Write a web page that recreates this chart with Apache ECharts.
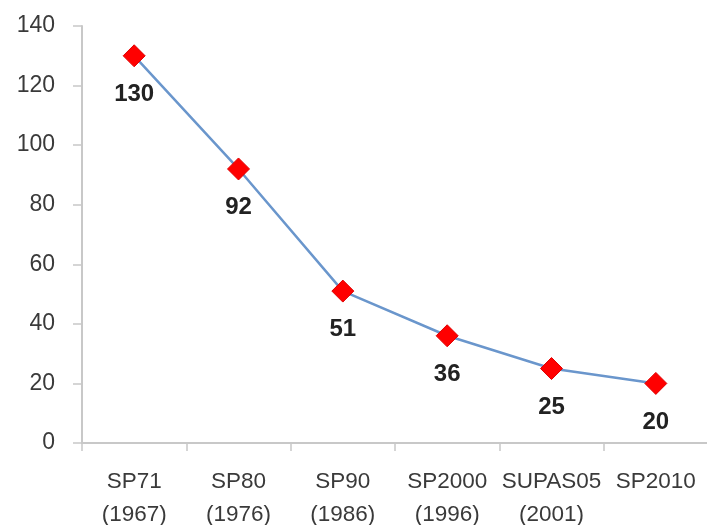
<!DOCTYPE html>
<html>
<head>
<meta charset="utf-8">
<script src="https://cdn.jsdelivr.net/npm/echarts@6/dist/echarts.min.js"></script>
<style>html,body{margin:0;padding:0;background:#fff;}#c{width:707px;height:525px;}</style>
</head>
<body>
<div id="c"></div>
<script>
const categories = ['SP71\n(1967)', 'SP80\n(1976)', 'SP90\n(1986)', 'SP2000\n(1996)', 'SUPAS05\n(2001)', 'SP2010'];
const values = [130, 92, 51, 36, 25, 20];
const yTicks = { min: 0, max: 140, interval: 20 };

const chart = echarts.init(document.getElementById('c'));
const font = 'Liberation Sans';
chart.setOption({
  animation: false,
  backgroundColor: '#fff',
  grid: { left: 82, right: -1, top: 26, bottom: 82, containLabel: false, outerBoundsMode: 'none' },
  xAxis: {
    type: 'category',
    data: categories,
    boundaryGap: true,
    axisLine: { lineStyle: { color: '#c8c8c8', width: 2 } },
    axisTick: { show: true, length: 8, lineStyle: { color: '#c8c8c8', width: 1.5 } },
    axisLabel: { color: '#3a3a3a', fontSize: 22.5, fontFamily: font, margin: 22, lineHeight: 33, interval: 0 }
  },
  yAxis: {
    type: 'value',
    min: yTicks.min, max: yTicks.max, interval: yTicks.interval,
    splitLine: { show: false },
    axisLine: { show: true, lineStyle: { color: '#c8c8c8', width: 2 } },
    axisTick: { show: true, length: 9, lineStyle: { color: '#c8c8c8', width: 1.5 } },
    axisLabel: { color: '#3a3a3a', fontSize: 23, fontFamily: font, margin: 27 }
  },
  series: [{
    type: 'line',
    data: values,
    lineStyle: { color: '#6a96cc', width: 2.5 },
    symbol: 'diamond',
    symbolSize: 22,
    itemStyle: { color: '#ff0000', borderColor: '#e00000', borderWidth: 1 },
    label: {
      show: true, position: 'bottom', distance: 15,
      color: '#222', fontSize: 24, fontWeight: 'bold', fontFamily: font
    }
  }]
});
</script>
</body>
</html>
